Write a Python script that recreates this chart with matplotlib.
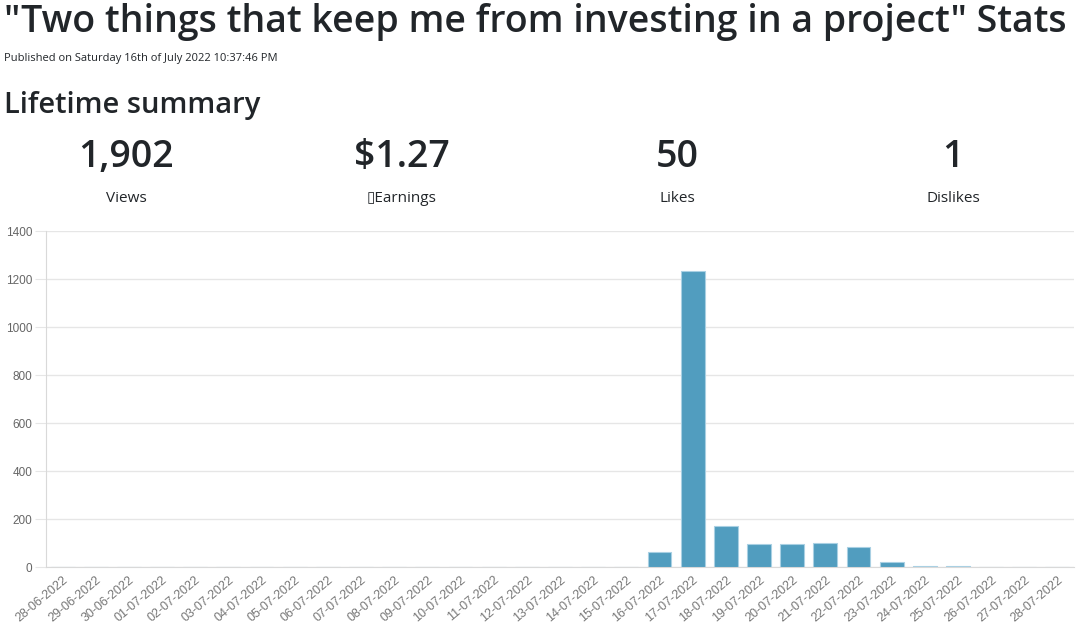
import matplotlib.pyplot as plt
import numpy as np

# daily views, 28-06-2022 .. 28-07-2022
dates = ['28-06-2022', '29-06-2022', '30-06-2022'] + \
        ['%02d-07-2022' % d for d in range(1, 29)]
views = [0] * 18 + [62, 1233, 171, 95, 95, 99, 85, 21, 5, 3, 2, 2, 0]

stat_values = ['1,902', '$1.27', '50', '1']
stat_labels = ['Views', '\u25afEarnings', 'Likes', 'Dislikes']

fig = plt.figure(figsize=(10.78, 6.25), dpi=100)
W, H = 1078, 625

def fy(py):
    return 1 - py / H

dark = '#212529'
fig.text(4 / W, fy(22), '"Two things that keep me from investing in a project" Stats',
         fontsize=27, family='Open Sans', fontweight='semibold', color=dark,
         va='center', ha='left')
fig.text(4 / W, fy(59), 'Published on Saturday 16th of July 2022 10:37:46 PM',
         fontsize=8, family='Open Sans', color=dark, va='center', ha='left')
fig.text(4 / W, fy(106), 'Lifetime summary',
         fontsize=21, family='Open Sans', fontweight='semibold', color=dark,
         va='center', ha='left')

centers = [126, 402, 677, 953]
for cx, v, lab in zip(centers, stat_values, stat_labels):
    fig.text(cx / W, fy(157), v, fontsize=27, family='Open Sans', fontweight='semibold',
             color=dark, va='center', ha='center')
    fig.text(cx / W, fy(198), lab, fontsize=11, family=['Open Sans', 'DejaVu Sans'],
             color=dark, va='center', ha='center')

ax = fig.add_axes([46 / W, 1 - 567 / H, 1028 / W, 336 / H])
x = np.arange(len(dates))
ax.bar(x, views, width=0.72, color='#519dbf', edgecolor='#a9d0e3', linewidth=0.8, zorder=3)

ax.set_xlim(-0.5, len(dates) - 0.5)
ax.set_ylim(0, 1400)
ax.set_yticks(range(0, 1401, 200))
ax.set_xticks(x)
ax.set_xticklabels(dates, rotation=40, ha='right', rotation_mode='anchor')
ax.grid(axis='y', color='#e6e6e6', linewidth=1, zorder=0)
for s in ['top', 'right']:
    ax.spines[s].set_visible(False)
for s in ['left', 'bottom']:
    ax.spines[s].set_color('#d9d9d9')
ax.tick_params(axis='y', length=8, color='#e6e6e6', labelsize=8.5, labelcolor='#666666', pad=2)
ax.tick_params(axis='x', length=0, labelsize=9, labelcolor='#777777', pad=5)
for t in ax.get_xticklabels() + ax.get_yticklabels():
    t.set_family('Liberation Sans')

fig.savefig('out.png', dpi=100)
